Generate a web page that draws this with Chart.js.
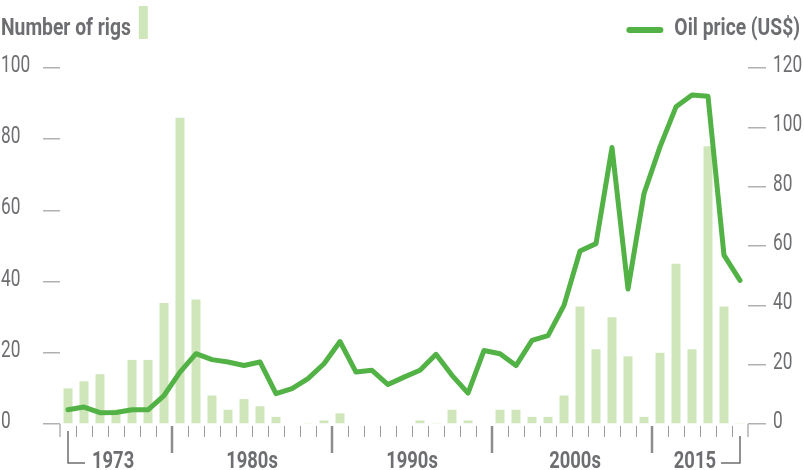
<!DOCTYPE html>
<html><head><meta charset="utf-8">
<script src="https://cdn.jsdelivr.net/npm/chart.js@4/dist/chart.umd.min.js"></script>
<style>html,body{margin:0;padding:0;background:#fff;}#wrap{width:804px;height:470px;position:relative;}</style>
</head><body><div id="wrap"><canvas id="c" width="804" height="470"></canvas></div>
<script>
// ---- data ----
const years = ['1973','1974','1975','1976','1977','1978','1979','1980','1981','1982','1983','1984','1985','1986','1987','1988','1989','1990','1991','1992','1993','1994','1995','1996','1997','1998','1999','2000','2001','2002','2003','2004','2005','2006','2007','2008','2009','2010','2011','2012','2013','2014','2015'];
const rigs = [10,12,14,4,18,18,34,86,35,8,4,7,5,2,0,0.3,1,3,0,0,0,0,1,0.3,4,1,0,4,4,2,2,8,33,21,30,19,2,20,45,21,78,33,0.3];
const oilPrice = [4.8,5.7,3.8,3.9,4.8,4.8,9.6,17.5,23.7,21.7,20.9,19.7,20.9,10.2,11.9,15.3,20.3,27.8,17.5,18.1,13.3,15.8,18.1,23.5,16.4,10.4,24.8,23.7,19.7,28.2,29.8,40.0,58.3,60.8,93.2,45.5,77.7,93.4,106.9,110.9,110.5,56.9,48.4];
const rigTicks = [0,20,40,60,80,100];
const priceTicks = [0,20,40,60,80,100,120];
const seriesNames = ['Number of rigs','Oil price (US$)'];
const xLabels = ['1973','1980s','1990s','2000s','2015'];
const decadeStarts = ['1980','1990','2000','2010'];

// ---- styles ----
const GREEN = '#52b246';
const LIGHT = '#cfe6ba';
const GRAY = '#6d6e71';
const TICKGRAY = '#b1b1b3';
const FONT = 'Roboto, "Liberation Sans", sans-serif';

function txt(ctx, s, x, y, align, weight, size, sx) {
  ctx.save();
  ctx.font = weight + ' ' + size + 'px ' + FONT;
  ctx.textAlign = 'left';
  ctx.textBaseline = 'alphabetic';
  const w = ctx.measureText(s).width * sx;
  let left = x;
  if (align === 'right') left = x - w;
  else if (align === 'center') left = x - w / 2;
  ctx.translate(left, y);
  ctx.scale(sx, 1);
  ctx.fillText(s, 0, 0);
  ctx.restore();
  return w;
}

const decor = {
  id:'decor',
  afterDraw(chart){
    const {ctx, scales:{x, yL, yR}} = chart;
    const n = years.length;
    const half = (x.getPixelForValue(1) - x.getPixelForValue(0)) / 2;
    const base = yL.getPixelForValue(0);
    ctx.save();
    // x boundary ticks
    const majors = [];
    for (let i = 0; i <= n; i++) {
      const px = i < n ? x.getPixelForValue(i) - half : x.getPixelForValue(n - 1) + half;
      const isMajor = i > 0 && i < n && decadeStarts.includes(years[i]);
      ctx.beginPath();
      if (i === 0 || i === n) {
        ctx.strokeStyle = TICKGRAY; ctx.lineWidth = 1.5;
        ctx.moveTo(px, base); ctx.lineTo(px, base + 13);
      } else if (isMajor) {
        majors.push(px);
        ctx.strokeStyle = '#8d8d90'; ctx.lineWidth = 2.5;
        ctx.moveTo(px, base + 2); ctx.lineTo(px, base + 29);
      } else {
        ctx.strokeStyle = '#9a9a9d'; ctx.lineWidth = 1;
        ctx.moveTo(Math.round(px) + 0.5, base + 2); ctx.lineTo(Math.round(px) + 0.5, base + 13);
      }
      ctx.stroke();
    }
    // brackets
    ctx.strokeStyle = GRAY; ctx.lineWidth = 1.5;
    const x0 = x.getPixelForValue(0);
    const x1 = x.getPixelForValue(n - 1);
    const by = base + 39;
    ctx.beginPath();
    ctx.moveTo(x0, base + 7); ctx.lineTo(x0, by); ctx.lineTo(x0 + 17, by);
    ctx.moveTo(x1, base + 12); ctx.lineTo(x1, by); ctx.lineTo(x1 - 19, by);
    ctx.stroke();
    ctx.fillStyle = GRAY;
    // x labels
    const ty = base + 44;
    txt(ctx, xLabels[0], x0 + 24, ty, 'left', 'bold', 23, 0.8);
    for (let k = 0; k < 3; k++) txt(ctx, xLabels[k + 1], (majors[k] + majors[k + 1]) / 2 + (k === 2 ? 3 : 0), ty, 'center', 'bold', 23, 0.8);
    txt(ctx, xLabels[4], x1 - 24, ty, 'right', 'bold', 23, 0.8);
    // y labels
    rigTicks.forEach(v => txt(ctx, String(v), 1, yL.getPixelForValue(v) + 4, 'left', 'normal', 23, 0.75));
    priceTicks.forEach(v => txt(ctx, String(v), 773, yR.getPixelForValue(v) + 4, 'left', 'normal', 23, 0.75));
    // legend
    const w0 = txt(ctx, seriesNames[0], 1, 35, 'left', 'bold', 23.5, 0.82);
    ctx.fillStyle = LIGHT;
    ctx.fillRect(1 + w0 + 8, 6, 9, 33);
    ctx.fillStyle = GRAY;
    const w1 = txt(ctx, seriesNames[1], 800, 35, 'right', 'bold', 23.5, 0.82);
    const sx = 800 - w1;
    ctx.strokeStyle = GREEN; ctx.lineWidth = 6; ctx.lineCap = 'round';
    ctx.beginPath(); ctx.moveTo(sx - 45, 30); ctx.lineTo(sx - 14, 30); ctx.stroke();
    ctx.restore();
  }
};

new Chart(document.getElementById('c').getContext('2d'), {
  type: 'bar',
  data: {
    labels: years,
    datasets: [
      {type:'line', label:seriesNames[1], data:oilPrice, yAxisID:'yR', borderColor:GREEN, borderWidth:5,
       pointRadius:0, tension:0, borderJoinStyle:'round', borderCapStyle:'round', order:0},
      {type:'bar', label:seriesNames[0], data:rigs, yAxisID:'yL', backgroundColor:LIGHT,
       barPercentage:0.56, categoryPercentage:1, order:1}
    ]
  },
  options: {
    responsive:false, animation:false, devicePixelRatio:1,
    layout:{padding:{top:68, bottom:46, left:1, right:0}},
    plugins:{legend:{display:false}, tooltip:{enabled:false}},
    scales:{
      x:{display:false, offset:true},
      yL:{position:'left', min:0, max:100,
          afterBuildTicks(s){ s.ticks = rigTicks.map(v => ({value:v})); },
          ticks:{display:false},
          grid:{drawOnChartArea:false, tickLength:17, color:TICKGRAY, lineWidth:1.5},
          border:{display:false},
          afterFit(s){ s.width = 59; }},
      yR:{position:'right', min:0, max:120,
          afterBuildTicks(s){ s.ticks = priceTicks.map(v => ({value:v})); },
          ticks:{display:false},
          grid:{drawOnChartArea:false, tickLength:18, color:TICKGRAY, lineWidth:1.5},
          border:{display:false},
          afterFit(s){ s.width = 56; }}
    }
  },
  plugins:[decor]
});
</script>
</body></html>
